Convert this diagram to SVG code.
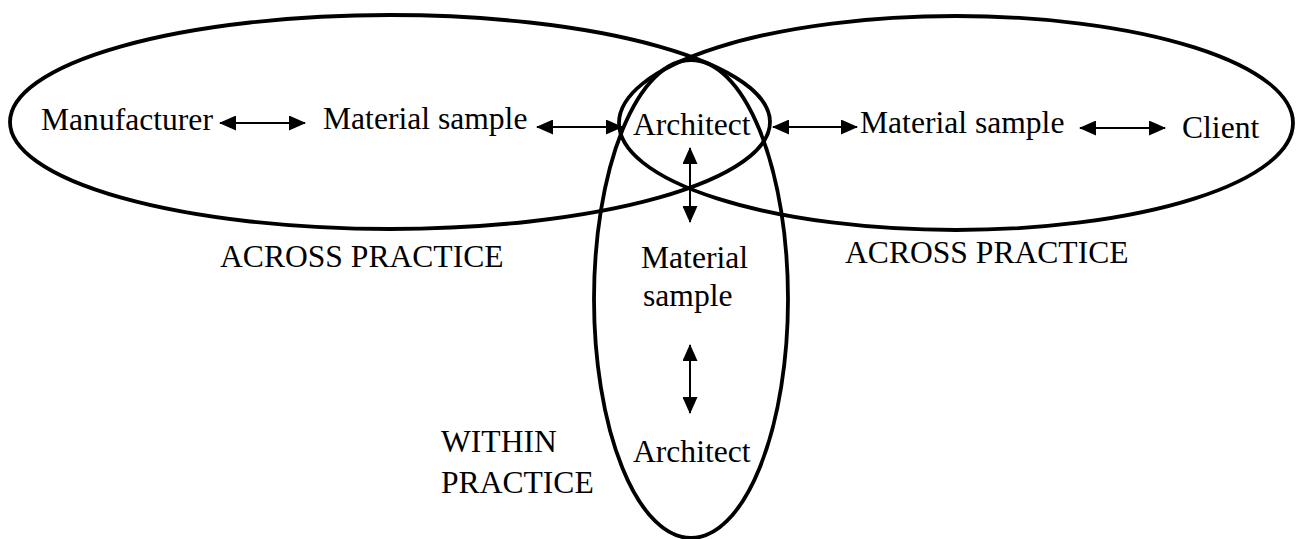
<svg xmlns="http://www.w3.org/2000/svg" width="1296" height="539" viewBox="0 0 1296 539">
<style>
.ell{fill:none;stroke:#000;stroke-width:3.8}
.conn{stroke:#000;stroke-width:2;fill:none;marker-start:url(#ah);marker-end:url(#ah)}
text{font-family:"Liberation Serif","Times New Roman",serif;font-size:31.6px;fill:#000}
</style>
<defs>
<marker id="ah" markerUnits="userSpaceOnUse" markerWidth="17" markerHeight="15" viewBox="0 0 17 15" refX="16" refY="7.5" orient="auto-start-reverse">
<path d="M0,0 L17,7.5 L0,15 Z" fill="#000"/>
</marker>
</defs>
<rect width="1296" height="539" fill="#fff"/>
<g id="across-left"><ellipse class="ell" cx="390" cy="122" rx="380" ry="107"/><text x="220" y="267">ACROSS PRACTICE</text></g>
<g id="across-right"><ellipse class="ell" cx="956" cy="123" rx="337" ry="107"/><text x="845" y="263">ACROSS PRACTICE</text></g>
<g id="within"><ellipse class="ell" cx="691" cy="299" rx="97" ry="239"/><text x="441" y="452">WITHIN</text><text x="441" y="493">PRACTICE</text></g>
<g id="manufacturer"><text x="41" y="130">Manufacturer</text></g>
<g id="sample-left"><text x="323" y="129">Material sample</text></g>
<g id="architect-top"><text x="633" y="135">Architect</text></g>
<g id="sample-right"><text x="860" y="133">Material sample</text></g>
<g id="client"><text x="1182" y="138">Client</text></g>
<g id="sample-mid"><text x="641" y="268">Material</text><text x="643" y="306">sample</text></g>
<g id="architect-bottom"><text x="633" y="462">Architect</text></g>
<g id="connectors">
<line class="conn" x1="220" y1="123" x2="305" y2="123"/>
<line class="conn" x1="537" y1="127" x2="622" y2="127"/>
<line class="conn" x1="773" y1="127" x2="857" y2="127"/>
<line class="conn" x1="1080" y1="128" x2="1165" y2="128"/>
<line class="conn" x1="690" y1="148" x2="690" y2="222"/>
<line class="conn" x1="690" y1="345" x2="690" y2="413"/>
</g>
</svg>
